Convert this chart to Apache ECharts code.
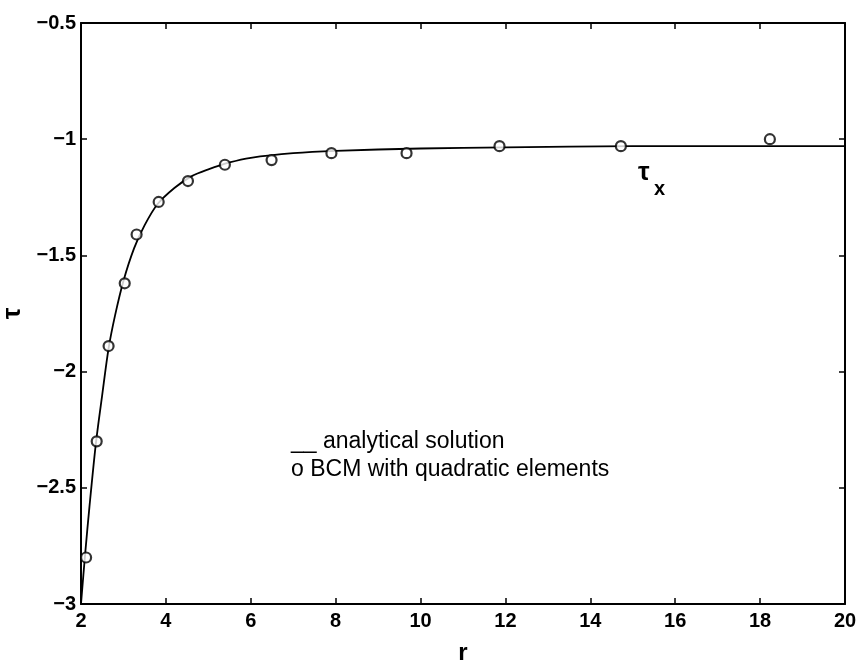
<!DOCTYPE html>
<html>
<head>
<meta charset="utf-8">
<script src="https://cdn.jsdelivr.net/npm/echarts@6/dist/echarts.min.js"></script>
<style>
  html, body { margin: 0; padding: 0; background: #fff; }
  #chart { width: 857px; height: 661px; }
</style>
</head>
<body>
<div id="chart"></div>
<script>
// Analytical shear stress profile tau(r)
const rAnalytic   = [2.0, 2.1, 2.2, 2.35, 2.5, 2.65, 2.8, 3.0, 3.25, 3.5, 3.8, 4.2, 4.6, 5.0, 5.5, 6.0, 7.0, 8.0, 10, 12, 15, 20];
const tauAnalytic = [-3.0, -2.78, -2.58, -2.31, -2.1, -1.9, -1.76, -1.61, -1.47, -1.37, -1.28, -1.21, -1.16, -1.13, -1.10, -1.08, -1.06, -1.05, -1.04, -1.035, -1.03, -1.03];

// Boundary collocation results, quadratic elements
const rBCM   = [2.12, 2.37, 2.65, 3.03, 3.31, 3.83, 4.52, 5.39, 6.49, 7.9, 9.67, 11.86, 14.72, 18.23];
const tauBCM = [-2.80, -2.30, -1.89, -1.62, -1.41, -1.27, -1.18, -1.11, -1.09, -1.06, -1.06, -1.03, -1.03, -1.0];

// Axis ticks
const xTicks = [2, 20, 2];        // min, max, step
const yTicks = [-3, -0.5, 0.5];   // min, max, step

const FONT = '"Liberation Sans", Arial, Helvetica, sans-serif';

const chart = echarts.init(document.getElementById('chart'), null, { renderer: 'canvas' });

const axisLine = { show: true, onZero: false, lineStyle: { color: '#000', width: 2 } };
const tickIn = { show: true, inside: true, length: 6, lineStyle: { color: '#000', width: 1.5 } };
const labelStyle = { color: '#000', fontFamily: FONT, fontWeight: 'bold', fontSize: 20 };
const minus = v => String(v).replace('-', '\u2212');

chart.setOption({
  backgroundColor: '#fff',
  animation: false,
  grid: { left: 81, right: 12, top: 23, bottom: 57, outerBoundsMode: 'none', containLabel: false },
  xAxis: [
    {
      type: 'value', min: xTicks[0], max: xTicks[1], interval: xTicks[2],
      axisLine, axisTick: tickIn, splitLine: { show: false },
      axisLabel: Object.assign({ margin: 7, formatter: minus }, labelStyle),
      name: 'r', nameLocation: 'middle', nameGap: 37,
      nameTextStyle: { color: '#000', fontFamily: FONT, fontWeight: 'bold', fontSize: 24 }
    },
    {
      type: 'value', position: 'top', min: xTicks[0], max: xTicks[1], interval: xTicks[2],
      axisLine, axisTick: tickIn, splitLine: { show: false }, axisLabel: { show: false }
    }
  ],
  yAxis: [
    {
      type: 'value', min: yTicks[0], max: yTicks[1], interval: yTicks[2],
      axisLine, axisTick: tickIn, splitLine: { show: false },
      axisLabel: Object.assign({ margin: 5, formatter: minus }, labelStyle),
      name: '\u03c4', nameLocation: 'middle', nameGap: 47, nameRotate: 90,
      nameTextStyle: { color: '#000', fontFamily: FONT, fontWeight: 'bold', fontSize: 26 }
    },
    {
      type: 'value', position: 'right', min: yTicks[0], max: yTicks[1], interval: yTicks[2],
      axisLine, axisTick: tickIn, splitLine: { show: false }, axisLabel: { show: false }
    }
  ],
  series: [
    {
      name: 'analytical solution', type: 'line', smooth: 0.3,
      showSymbol: false, symbol: 'none',
      lineStyle: { color: '#000', width: 1.8 },
      data: rAnalytic.map((r, i) => [r, tauAnalytic[i]]),
      z: 2
    },
    {
      name: 'BCM with quadratic elements', type: 'scatter',
      symbol: 'circle', symbolSize: 10,
      itemStyle: { color: '#fff', borderColor: '#000', borderWidth: 2.2 },
      data: rBCM.map((r, i) => [r, tauBCM[i]]),
      z: 3
    }
  ],
  graphic: [
    { type: 'text', left: 638, top: 160,
      style: { text: '\u03c4', fill: '#000', font: 'bold 26px ' + FONT } },
    { type: 'text', left: 654, top: 179,
      style: { text: 'x', fill: '#000', font: 'bold 20px ' + FONT } },
    { type: 'text', left: 291, top: 430,
      style: { text: '__ analytical solution', fill: '#000', font: '23px ' + FONT } },
    { type: 'text', left: 291, top: 458,
      style: { text: 'o BCM with quadratic elements', fill: '#000', font: '23px ' + FONT } }
  ]
});
</script>
</body>
</html>
